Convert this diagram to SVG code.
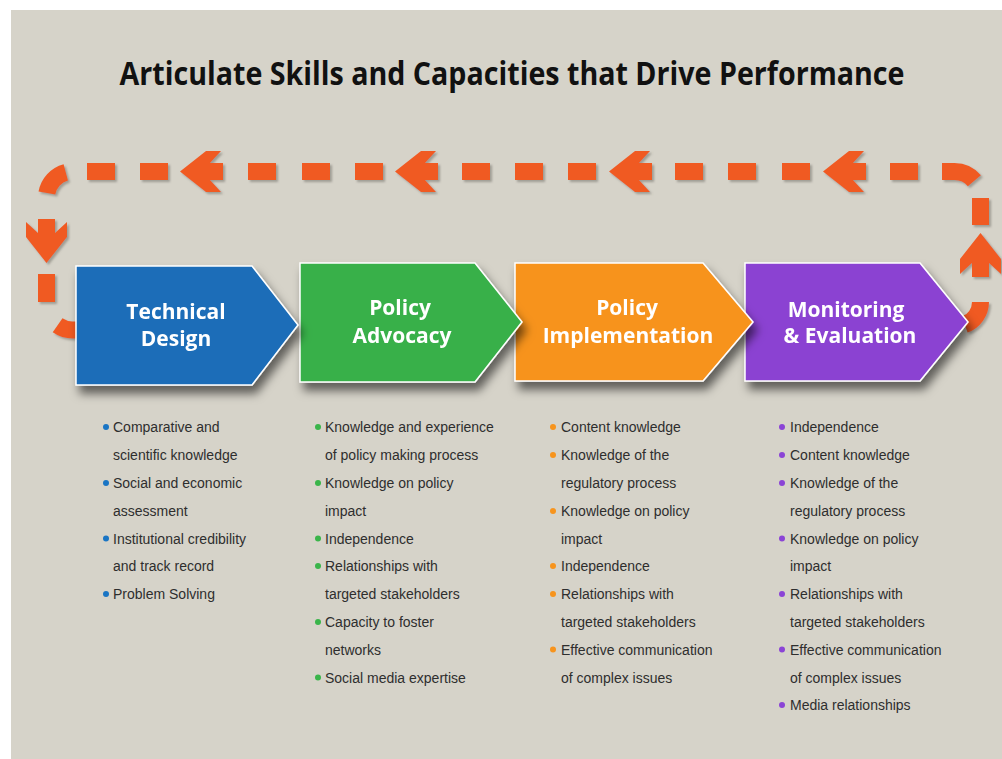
<svg xmlns="http://www.w3.org/2000/svg" width="1002" height="759" viewBox="0 0 1002 759">
<defs>
<filter id="boxShadow" x="-10%" y="-10%" width="130%" height="140%">
<feDropShadow dx="4" dy="8" stdDeviation="5" flood-color="#000" flood-opacity="0.55"/>
</filter>
<filter id="dashShadow" x="-20%" y="-20%" width="150%" height="150%">
<feDropShadow dx="2" dy="2" stdDeviation="0.8" flood-color="#7a786f" flood-opacity="0.6"/>
</filter>
<path id="arrL" d="M0,0 L26,-20.5 H41 L30,-8.5 H43 V8.5 H30 L41,20.5 H26 Z"/>
</defs>
<style>
.bg{fill:#d6d3c9}
.dash{fill:#f05a24}
.arc{fill:none;stroke:#f05a24;stroke-width:17;stroke-linecap:butt}
.box{stroke:#ffffff;stroke-width:1.5}
.lbl{font-family:"Open Sans","Liberation Sans",sans-serif;font-weight:700;font-size:21px;fill:#ffffff;text-anchor:middle}
.title{font-family:"Open Sans","Liberation Sans",sans-serif;font-weight:700;font-size:32px;fill:#111111;text-anchor:middle}
.item{font-family:"Liberation Sans",Arial,sans-serif;font-size:14px;fill:#2e2e2e}
</style>
<rect width="1002" height="759" fill="#ffffff"/>
<rect class="bg" x="11" y="10" width="991" height="749"/>
<text class="title" x="512" y="85" textLength="785" lengthAdjust="spacingAndGlyphs">Articulate Skills and Capacities that Drive Performance</text>

<g id="connectors" filter="url(#dashShadow)">
<path class="arc" d="M46.9,193 A26,26 0 0 1 65.8,172.4"/>
<rect class="dash" x="87" y="163" width="28" height="17"/>
<rect class="dash" x="140" y="163" width="28" height="17"/>
<use href="#arrL" class="dash" x="180" y="171.5"/>
<rect class="dash" x="248" y="163" width="28" height="17"/>
<rect class="dash" x="302" y="163" width="28" height="17"/>
<rect class="dash" x="355" y="163" width="28" height="17"/>
<use href="#arrL" class="dash" x="395" y="171.5"/>
<rect class="dash" x="462" y="163" width="28" height="17"/>
<rect class="dash" x="515" y="163" width="28" height="17"/>
<rect class="dash" x="568" y="163" width="28" height="17"/>
<use href="#arrL" class="dash" x="609" y="171.5"/>
<rect class="dash" x="675" y="163" width="28" height="17"/>
<rect class="dash" x="728" y="163" width="28" height="17"/>
<rect class="dash" x="782" y="163" width="28" height="17"/>
<use href="#arrL" class="dash" x="823" y="171.5"/>
<rect class="dash" x="890" y="163" width="28" height="17"/>
<path class="arc" d="M942,171.5 H954.5 A26,26 0 0 1 974.4,180.8"/>
<rect class="dash" x="972" y="198" width="17" height="27"/>
<path class="dash" d="M980.5,233 L1001,259 V274 L989,263 V277 H972 V263 L960,274 V259 Z"/>
<path class="arc" d="M980.5,302 A24,24 0 0 1 964.7,324.6"/>
<path class="dash" d="M46.5,263 L26,237 V222 L38,233 V219 H55 V233 L67,222 V237 Z"/>
<rect class="dash" x="38" y="274" width="17" height="28"/>
<path class="arc" d="M57.6,325.3 A26,26 0 0 0 72.5,330 H82"/>
</g>

<g id="node-monitoring" filter="url(#boxShadow)">
<path class="box" fill="#8b42d2" d="M745,263 H920 L968,322 L920,381 H745 Z"/>
<text class="lbl" x="846" y="317">Monitoring</text>
<text class="lbl" x="850" y="343">&amp; Evaluation</text>
</g>
<g id="node-implementation" filter="url(#boxShadow)">
<path class="box" fill="#f7931e" d="M515,263 H703 L753,322 L703,381 H515 Z"/>
<text class="lbl" x="627" y="315">Policy</text>
<text class="lbl" x="628" y="343">Implementation</text>
</g>
<g id="node-advocacy" filter="url(#boxShadow)">
<path class="box" fill="#39b04a" d="M300,263 H475 L522,322 L475,382 H300 Z"/>
<text class="lbl" x="400" y="315">Policy</text>
<text class="lbl" x="402" y="343">Advocacy</text>
</g>
<g id="node-technical" filter="url(#boxShadow)">
<path class="box" fill="#1a6db8" d="M76,266 H252 L298,325 L252,385 H76 Z"/>
<text class="lbl" x="176" y="319">Technical</text>
<text class="lbl" x="176" y="346">Design</text>
</g>

<g id="list-technical">
<g fill="#1a75c4"><circle cx="106" cy="427" r="3"/><circle cx="106" cy="483" r="3"/><circle cx="106" cy="538.5" r="3"/><circle cx="106" cy="594" r="3"/></g>
<text class="item" x="113" y="432">Comparative and</text>
<text class="item" x="113" y="460">scientific knowledge</text>
<text class="item" x="113" y="488">Social and economic</text>
<text class="item" x="113" y="515.5">assessment</text>
<text class="item" x="113" y="543.5">Institutional credibility</text>
<text class="item" x="113" y="571">and track record</text>
<text class="item" x="113" y="599">Problem Solving</text>
</g>
<g id="list-advocacy">
<g fill="#3ab54a"><circle cx="318" cy="427" r="3"/><circle cx="318" cy="483" r="3"/><circle cx="318" cy="538.5" r="3"/><circle cx="318" cy="566" r="3"/><circle cx="318" cy="622" r="3"/><circle cx="318" cy="677.5" r="3"/></g>
<text class="item" x="325" y="432">Knowledge and experience</text>
<text class="item" x="325" y="460">of policy making process</text>
<text class="item" x="325" y="488">Knowledge on policy</text>
<text class="item" x="325" y="515.5">impact</text>
<text class="item" x="325" y="543.5">Independence</text>
<text class="item" x="325" y="571">Relationships with</text>
<text class="item" x="325" y="599">targeted stakeholders</text>
<text class="item" x="325" y="627">Capacity to foster</text>
<text class="item" x="325" y="654.5">networks</text>
<text class="item" x="325" y="682.5">Social media expertise</text>
</g>
<g id="list-implementation">
<g fill="#f7941d"><circle cx="553" cy="427" r="3"/><circle cx="553" cy="455" r="3"/><circle cx="553" cy="511" r="3"/><circle cx="553" cy="566" r="3"/><circle cx="553" cy="594" r="3"/><circle cx="553" cy="649.5" r="3"/></g>
<text class="item" x="561" y="432">Content knowledge</text>
<text class="item" x="561" y="460">Knowledge of the</text>
<text class="item" x="561" y="488">regulatory process</text>
<text class="item" x="561" y="515.5">Knowledge on policy</text>
<text class="item" x="561" y="543.5">impact</text>
<text class="item" x="561" y="571">Independence</text>
<text class="item" x="561" y="599">Relationships with</text>
<text class="item" x="561" y="627">targeted stakeholders</text>
<text class="item" x="561" y="654.5">Effective communication</text>
<text class="item" x="561" y="682.5">of complex issues</text>
</g>
<g id="list-monitoring">
<g fill="#8b44d6"><circle cx="782" cy="427" r="3"/><circle cx="782" cy="455" r="3"/><circle cx="782" cy="483" r="3"/><circle cx="782" cy="538.5" r="3"/><circle cx="782" cy="594" r="3"/><circle cx="782" cy="649.5" r="3"/><circle cx="782" cy="705" r="3"/></g>
<text class="item" x="790" y="432">Independence</text>
<text class="item" x="790" y="460">Content knowledge</text>
<text class="item" x="790" y="488">Knowledge of the</text>
<text class="item" x="790" y="515.5">regulatory process</text>
<text class="item" x="790" y="543.5">Knowledge on policy</text>
<text class="item" x="790" y="571">impact</text>
<text class="item" x="790" y="599">Relationships with</text>
<text class="item" x="790" y="627">targeted stakeholders</text>
<text class="item" x="790" y="654.5">Effective communication</text>
<text class="item" x="790" y="682.5">of complex issues</text>
<text class="item" x="790" y="710">Media relationships</text>
</g>
</svg>
